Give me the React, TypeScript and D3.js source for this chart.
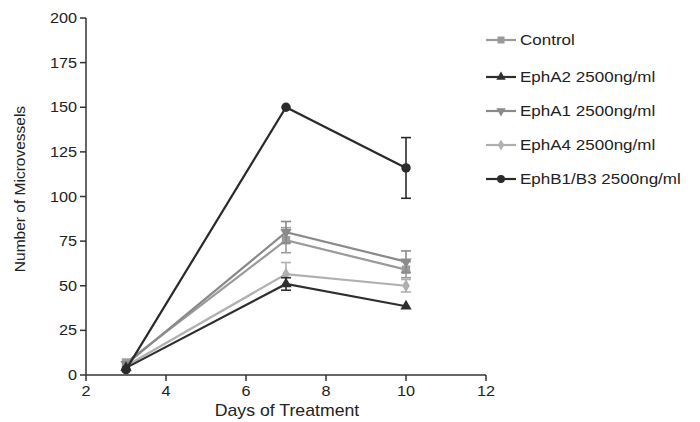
import React from "react";
import * as d3 from "d3";

// days of treatment
const days = [3, 7, 10];

// mean microvessel counts
const control = [7, 75.5, 59];
const ephA2 = [4, 51, 38.5];
const ephA1 = [6, 80, 63.5];
const ephA4 = [5, 56.5, 50];
const ephB1 = [3, 150, 116];

// error bar half-widths (0 = none visible)
const controlErr = [0, 7, 4.5];
const ephA2Err = [0, 3.5, 0];
const ephA1Err = [0, 6, 6];
const ephA4Err = [0, 6.5, 3.5];
const ephB1Err = [0, 0, 17];

const yTicks = [0, 25, 50, 75, 100, 125, 150, 175, 200];
const xTicks = [2, 4, 6, 8, 10, 12];

const series = [
  { name: "Control", values: control, err: controlErr, color: "#9a9a9a", shape: d3.symbolSquare, size: 70, rot: 0 },
  { name: "EphA2 2500ng/ml", values: ephA2, err: ephA2Err, color: "#2e2e2e", shape: d3.symbolTriangle, size: 55, rot: 0 },
  { name: "EphA1 2500ng/ml", values: ephA1, err: ephA1Err, color: "#8a8a8a", shape: d3.symbolTriangle, size: 55, rot: 180 },
  { name: "EphA4 2500ng/ml", values: ephA4, err: ephA4Err, color: "#b0b0b0", shape: d3.symbolDiamond, size: 50, rot: 0 },
  { name: "EphB1/B3 2500ng/ml", values: ephB1, err: ephB1Err, color: "#2a2a2a", shape: d3.symbolCircle, size: 70, rot: 0 },
];

// draw order: light ones under the dark ones
const drawOrder = [3, 0, 2, 1, 4];
const legendY = [40, 77, 111, 145, 179];

const font = "'Liberation Sans', Arial, Helvetica, sans-serif";
// the scanned figure is a bit wider than tall, so horizontal text is stretched
const sx = 1.12;

export default function App() {
  const x = d3.scaleLinear().domain([2, 12]).range([86, 486]);
  const y = d3.scaleLinear().domain([0, 200]).range([375, 18]);
  const line = d3.line<number>().x((d, i) => x(days[i])).y(d => y(d));
  const axisColor = "#333";

  return (
    <svg
      width={700}
      height={422}
      style={{ position: "absolute", top: 0, left: 0, background: "#fff" }}
      fontFamily={font}
    >
      {/* y axis */}
      <line x1={x(2)} x2={x(2)} y1={y(0)} y2={y(200)} stroke={axisColor} strokeWidth={1.5} />
      {yTicks.map(t => (
        <g key={t}>
          <line x1={x(2) - 6} x2={x(2)} y1={y(t)} y2={y(t)} stroke={axisColor} strokeWidth={1.5} />
          <text transform={`translate(${x(2) - 9},${y(t)}) scale(${sx},1)`} dy="0.35em" textAnchor="end" fontSize={14.5} fill="#222">{t}</text>
        </g>
      ))}
      {/* x axis */}
      <line x1={x(2)} x2={x(12)} y1={y(0)} y2={y(0)} stroke={axisColor} strokeWidth={1.5} />
      {xTicks.map(t => (
        <g key={t}>
          <line x1={x(t)} x2={x(t)} y1={y(0)} y2={y(0) + 6} stroke={axisColor} strokeWidth={1.5} />
          <text transform={`translate(${x(t)},${y(0) + 21}) scale(${sx},1)`} textAnchor="middle" fontSize={14.5} fill="#222">{t}</text>
        </g>
      ))}
      <text transform={`translate(287,416) scale(${sx},1)`} textAnchor="middle" fontSize={15.8} fill="#222">Days of Treatment</text>
      <text transform="translate(25,189) rotate(-90)" textAnchor="middle" fontSize={15.5} fill="#222">Number of Microvessels</text>

      {drawOrder.map(si => {
        const s = series[si];
        const sym = d3.symbol().type(s.shape).size(s.size)()!;
        return (
          <g key={s.name}>
            <path d={line(s.values)!} fill="none" stroke={s.color} strokeWidth={2.2} />
            {s.values.map((v, i) =>
              s.err[i] > 0 ? (
                <g key={"e" + i} stroke={s.color} strokeWidth={1.6}>
                  <line x1={x(days[i])} x2={x(days[i])} y1={y(v - s.err[i])} y2={y(v + s.err[i])} />
                  <line x1={x(days[i]) - 5} x2={x(days[i]) + 5} y1={y(v - s.err[i])} y2={y(v - s.err[i])} />
                  <line x1={x(days[i]) - 5} x2={x(days[i]) + 5} y1={y(v + s.err[i])} y2={y(v + s.err[i])} />
                </g>
              ) : null
            )}
            {s.values.map((v, i) => (
              <path key={"m" + i} d={sym} fill={s.color} transform={`translate(${x(days[i])},${y(v)}) rotate(${s.rot})`} />
            ))}
          </g>
        );
      })}

      {/* legend */}
      {series.map((s, i) => {
        const sym = d3.symbol().type(s.shape).size(s.size * 0.7)()!;
        return (
          <g key={s.name} transform={`translate(0,${legendY[i]})`}>
            <line x1={486} x2={516} y1={0} y2={0} stroke={s.color} strokeWidth={2.2} />
            <path d={sym} fill={s.color} transform={`translate(501,0) rotate(${s.rot})`} />
            <text transform={`translate(520,0) scale(${sx},1)`} dy="0.35em" fontSize={15.2} fill="#222">{s.name}</text>
          </g>
        );
      })}
    </svg>
  );
}
